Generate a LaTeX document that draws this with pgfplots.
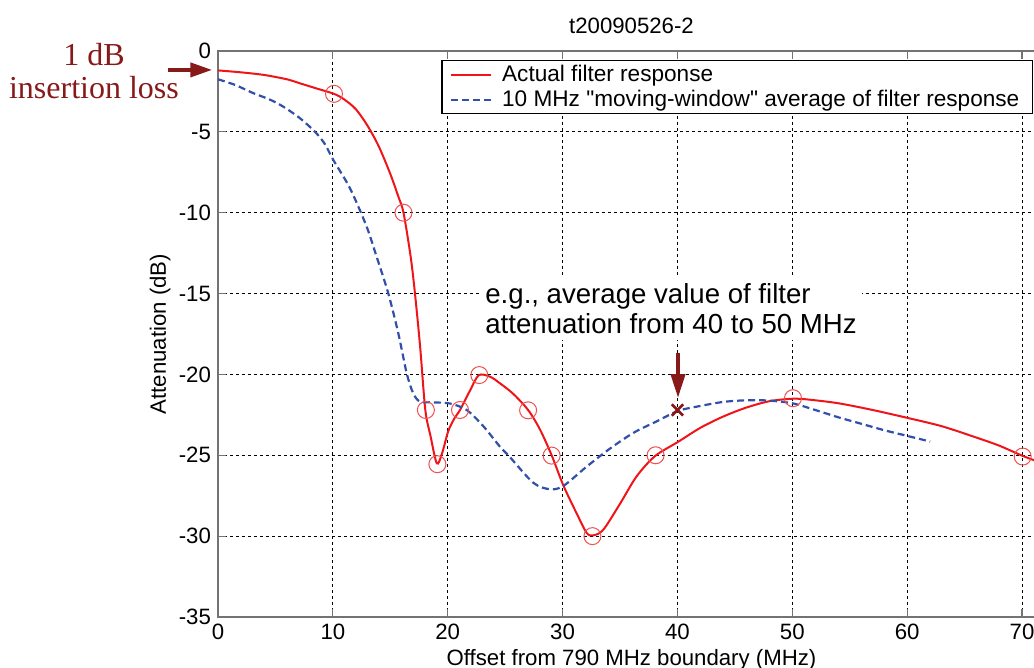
\documentclass[border=0pt]{standalone}
\usepackage{pgfplots}
\pgfplotsset{compat=1.18}
\usepackage{fontspec}
\setmainfont{Liberation Sans}[Ligatures=TeXOff]
\newfontfamily\pala{Liberation Serif}
\usetikzlibrary{arrows.meta}
\definecolor{mred}{RGB}{240,20,25}
\definecolor{mblue}{RGB}{50,80,170}
\definecolor{dred}{RGB}{135,25,25}
\definecolor{circ}{RGB}{240,80,80}
\begin{document}
\begin{tikzpicture}[font=\fontsize{11.1}{13}\selectfont]
\path[use as bounding box] (-109pt,-25.5pt) rectangle (408pt,308.5pt);
\clip (-109pt,-25.5pt) rectangle (408pt,308.5pt);
\begin{axis}[
  at={(0pt,0pt)}, anchor=south west,
  scale only axis, width=413.5pt, height=283pt,
  xmin=0, xmax=72, ymin=-35, ymax=0,
  xtick={0,10,...,70}, ytick={-35,-30,...,0},
  axis line style={black!55, line width=0.8pt},
  tick style={black!55, line width=0.6pt}, major tick length=4pt,
  grid=major, major grid style={black, line width=0.5pt, dash pattern=on 1.5pt off 1.5pt},
  clip mode=individual,
  /pgf/number format/assume math mode=true,
  every axis title shift=0pt,
  title={t20090526-2}, title style={at={(axis description cs:0.5,1.044)}, anchor=center},
  xlabel={Offset from 790 MHz boundary (MHz)}, xlabel style={at={(axis description cs:0.5,-0.076)}, anchor=center},
  ylabel={Attenuation (dB)}, ylabel style={at={(axis description cs:-0.0701,0.5)}, anchor=center},
  legend style={at={(0.9855,0.984)}, anchor=north east, draw=black, line width=0.6pt, fill=white,
    font=\fontsize{11.3}{13}\selectfont, inner xsep=4pt, inner ysep=0.8pt,
    nodes={inner xsep=2.5pt, inner ysep=1.4pt}},
  legend cell align=left,
  legend image code/.code={\draw[#1] (0pt,0pt) -- (20pt,0pt); \path (22.5pt,0pt);},
]
\addplot[mred, line width=1pt, smooth] coordinates {
(0,-1.2) (2,-1.32) (4,-1.48) (6,-1.75) (7.14,-2.0) (8.5,-2.3) (10.1,-2.65) (11,-3.0) (12,-3.6) (13,-4.6) (14,-5.9) (15,-7.6) (15.7,-9.0) (16.15,-10.0) (16.77,-12.7) (17.15,-15.0) (17.6,-18.3) (18.05,-22.2) (18.5,-23.8) (19.05,-25.5) (19.5,-24.9) (20.05,-23.5) (20.6,-22.7) (21.07,-22.2) (21.94,-21.0) (22.7,-20.05) (23.68,-20.14) (24.55,-20.55) (25.7,-21.2) (27.0,-22.2) (28.03,-23.4) (29.05,-25.0) (30.06,-26.85) (31.23,-28.6) (32.1,-29.8) (32.68,-29.95) (33.55,-29.6) (35.0,-28.0) (36.45,-26.3) (38.05,-25.05) (40.08,-24.16) (42,-23.3) (44,-22.6) (46,-22.05) (48.06,-21.65) (50.2,-21.5) (52,-21.6) (54.15,-21.8) (57,-22.2) (60.1,-22.7) (63,-23.2) (65.8,-23.85) (68,-24.4) (70.1,-25.05) (72,-25.55)
};
\addlegendentry{Actual filter response}
\addplot[mblue, line width=1.1pt, dash pattern=on 3.5pt off 2pt, smooth] coordinates {
(0,-1.75) (1.5,-2.1) (3.05,-2.6) (4.5,-3.0) (5.7,-3.45) (7.14,-4.16) (8.45,-5.0) (9.3,-5.75) (10.04,-6.74) (11.5,-8.5) (12.94,-10.86) (13.8,-12.7) (14.83,-15.0) (15.7,-17.46) (16.43,-19.93) (17.0,-21.17) (17.59,-21.68) (18.75,-21.73) (20.2,-21.8) (21.65,-22.2) (23.1,-23.2) (24.55,-24.47) (25.4,-25.1) (27.45,-26.7) (28.9,-27.1) (30.06,-26.9) (32.1,-25.7) (34.1,-24.6) (36.2,-23.6) (38.2,-22.9) (40.08,-22.25) (42,-21.95) (44,-21.7) (46,-21.6) (48.06,-21.62) (50.1,-21.8) (52,-22.2) (54,-22.65) (56,-23.05) (58,-23.45) (60,-23.8) (62,-24.15)
};
\addlegendentry{10 MHz "moving-window" average of filter response}
\addplot[only marks, mark=o, mark size=4.25pt, mark options={circ, line width=0.5pt}, forget plot] coordinates {
(10.1,-2.65) (16.15,-10.0) (18.1,-22.2) (19.1,-25.55) (21.07,-22.2) (22.75,-20.04) (27.0,-22.22) (29.05,-25.02) (32.6,-30.0) (38.1,-25.0) (50.06,-21.47) (70.06,-25.08)
};
\addplot[only marks, mark=x, mark size=4pt, mark options={dred, line width=1.3pt}, forget plot] coordinates {(40,-22.2)};
\draw[dred, line width=2pt, -{Triangle[length=11pt,width=7pt]}] (axis cs:-4.35,-1.17) -- (axis cs:-0.5,-1.17);
\node[anchor=base, dred, font=\pala\fontsize{16}{18}\selectfont] at (axis cs:-10.8,-0.9) {1 dB};
\node[anchor=base, dred, font=\pala\fontsize{16}{18}\selectfont] at (axis cs:-10.8,-2.907) {insertion loss};
\draw[dred, line width=2pt, -{Triangle[length=12pt,width=7pt]}] (axis cs:40.05,-18.68) -- (axis cs:40.05,-21.46);
\node[anchor=north west, fill=white, inner xsep=2.5pt, inner ysep=3pt, align=left, font=\fontsize{13.8}{15}\selectfont] at (axis cs:22.81,-13.98) {e.g., average value of filter\\attenuation from 40 to 50 MHz};
\end{axis}
\end{tikzpicture}
\end{document}
